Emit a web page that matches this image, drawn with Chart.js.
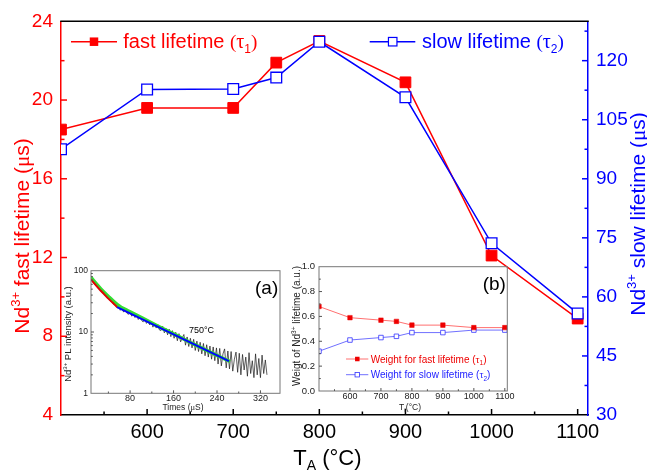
<!DOCTYPE html>
<html><head><meta charset="utf-8">
<script src="https://cdn.jsdelivr.net/npm/chart.js@4"></script>
<style>
html,body{margin:0;padding:0;background:#fff;}
#wrap{position:relative;width:647px;height:472px;overflow:hidden;}
#wrap canvas{position:absolute;}
</style></head><body>
<div id="wrap">
<canvas id="main" width="647" height="472" style="left:0;top:0;width:647px;height:472px"></canvas>
<canvas id="insA" width="240" height="160" style="left:50px;top:255px;width:240px;height:160px"></canvas>
<canvas id="insB" width="225" height="160" style="left:290px;top:255px;width:225px;height:160px"></canvas>
</div>
<script>
// ---------- main chart data ----------
const annealTemps = [500, 600, 700, 750, 800, 900, 1000, 1100];
const fastLifetime = [18.5, 19.6, 19.6, 21.9, 23.0, 20.9, 12.1, 8.9];
const slowLifetime = [97.5, 112.7, 112.8, 115.7, 124.8, 110.7, 73.6, 55.8];
const xTickValues = [600, 700, 800, 900, 1000, 1100];
const leftTickValues = [4, 8, 12, 16, 20, 24];
const rightTickValues = [30, 45, 60, 75, 90, 105, 120];

// ---------- inset (b) data ----------
const weightTemps = [500, 600, 700, 750, 800, 900, 1000, 1100];
const weightFast = [0.68, 0.59, 0.57, 0.56, 0.53, 0.53, 0.51, 0.51];
const weightSlow = [0.32, 0.41, 0.43, 0.44, 0.47, 0.47, 0.49, 0.49];
const weightXTicks = [600, 700, 800, 900, 1000, 1100];
const weightYTicks = [0, 0.2, 0.4, 0.6, 0.8, 1.0];

// ---------- inset (a) data (PL decay at 750 °C) ----------
const decayTime = [8,11,14,17,20,23,26,29,32,35,38,41,44,47,50,53,56,59,62,65,68,71,74,77,80,83,86,89,92,95,98,101,104,107,110,113,116,119,122,125,128,131,134,137,140,143,146,149,152,155,158,161,164,167,170,173,176,179,182,185,188,191,194,197,200,203,206,209,212,215,218,221,224,227,230,233,236,239,242,245,248,251,254,257,260,263,266,269,272,275,278,281,284,287,290,293,296,299,302,305,308,311,314,317,320,323,326,329,332];
const decayIntensity = [71.5,68.8,61.9,60.1,54.2,52.6,47.5,46.3,41.8,40.6,36.1,35.3,31.6,30.9,27.9,27.5,24.6,25.9,22.6,24.5,21.1,23.2,20.3,19.4,21.6,18.1,19.9,17.2,19.1,16.0,17.9,15.5,14.6,16.6,13.8,15.6,13.1,14.9,12.0,13.9,11.6,13.2,10.8,10.6,12.4,9.7,11.5,9.0,11.1,8.4,10.5,7.9,9.9,7.2,9.4,6.9,8.0,9.1,6.1,8.3,5.8,7.9,5.5,7.6,5.0,7.1,4.8,6.8,4.4,6.5,4.1,6.2,3.9,5.9,3.6,5.7,3.4,5.5,3.0,5.4,2.8,4.4,5.3,2.6,4.9,2.5,4.8,2.3,3.6,4.7,2.2,4.5,2.0,4.3,2.4,3.9,1.9,4.6,2.1,3.4,1.8,4.4,2.0,3.7,1.8,4.2,2.1,3.5,2.0];
const totalFitTime = [8,14,20,26,32,40,48,56,64,72,80,100,130,160,200,240,264];
const totalFitValue = [78,67,58,50.5,44.5,38,32.5,28.2,25.2,23.2,21.3,17.3,12.6,9.3,6.15,4.15,3.3];
const fastFitTime = [8,14,20,26,32,40,48,56];
const fastFitValue = [72,62,54,47,41.5,35,30,25.6];
const slowFitTime = [56, 262];
const slowFitValue = [25.4, 3.35];
const decayXTicks = [80, 160, 240, 320];
const decayYTicks = [1, 10, 100];

// ---------- helpers ----------
const SANS = "'Liberation Sans', Arial, sans-serif";
const SERIF = "'Liberation Serif', 'Times New Roman', serif";
Chart.defaults.font.family = SANS;
const RED = '#ff0000', BLUE = '#0000ff';

function pts(xs, ys) { return xs.map((x, i) => ({x: x, y: ys[i]})); }
function fixTicks(vals) { return s => { s.ticks = vals.map(v => ({value: v})); }; }

function drawRich(ctx, segs, x, y, align, color) {
  let w = 0;
  segs.forEach(s => {
    ctx.font = s.s + 'px ' + (s.f === 'serif' ? SERIF : SANS);
    s.w = ctx.measureText(s.t).width; w += s.w;
  });
  let cx = align === 'center' ? x - w / 2 : (align === 'right' ? x - w : x);
  ctx.textAlign = 'left'; ctx.textBaseline = 'alphabetic';
  segs.forEach(s => {
    ctx.font = s.s + 'px ' + (s.f === 'serif' ? SERIF : SANS);
    ctx.fillStyle = s.c || color;
    ctx.fillText(s.t, cx, y + (s.dy || 0));
    cx += s.w;
  });
}
function drawRot(ctx, segs, x, y, color) {
  ctx.save(); ctx.translate(x, y); ctx.rotate(-Math.PI / 2);
  drawRich(ctx, segs, 0, 0, 'center', color); ctx.restore();
}
function drawTicks(chart, specs) {
  const ctx = chart.ctx, a = chart.chartArea;
  ctx.save();
  specs.forEach(sp => {
    const sc = chart.scales[sp.id];
    ctx.strokeStyle = sp.color; ctx.lineWidth = sp.width || 1;
    const draw = (vals, len) => vals.forEach(v => {
      const p = sc.getPixelForValue(v);
      ctx.beginPath();
      if (sp.side === 'bottom') { ctx.moveTo(p, a.bottom); ctx.lineTo(p, a.bottom - len); }
      else if (sp.side === 'left') { ctx.moveTo(a.left, p); ctx.lineTo(a.left + len, p); }
      else if (sp.side === 'right') { ctx.moveTo(a.right, p); ctx.lineTo(a.right - len, p); }
      ctx.stroke();
    });
    draw(sp.major, sp.majorLen); draw(sp.minor || [], sp.minorLen || 0);
  });
  ctx.restore();
}
function legendMarker(ctx, x, y, size, fill, stroke, lw) {
  ctx.save();
  if (fill) { ctx.fillStyle = fill; ctx.fillRect(x - size / 2, y - size / 2, size, size); }
  if (stroke) { ctx.fillStyle = '#fff'; ctx.fillRect(x - size / 2, y - size / 2, size, size);
    ctx.strokeStyle = stroke; ctx.lineWidth = lw; ctx.strokeRect(x - size / 2, y - size / 2, size, size); }
  ctx.restore();
}
function hline(ctx, x1, x2, y, color, lw) {
  ctx.save(); ctx.strokeStyle = color; ctx.lineWidth = lw;
  ctx.beginPath(); ctx.moveTo(x1, y); ctx.lineTo(x2, y); ctx.stroke(); ctx.restore();
}

// ---------- main chart ----------
const mainDecor = {
  id: 'mainDecor',
  afterDraw(chart) {
    const ctx = chart.ctx, a = chart.chartArea;
    hline(ctx, a.left - 0.75, a.right + 0.75, a.top, '#000', 1.5);
    drawTicks(chart, [
      {id: 'x', side: 'bottom', color: '#000', width: 1.5, major: [600,700,800,900,1000,1100], minor: [550,650,750,850,950,1050], majorLen: 6, minorLen: 3.5},
      {id: 'yL', side: 'left', color: RED, width: 1.5, major: [8,12,16,20], minor: [6,10,14,18,22], majorLen: 6, minorLen: 3.5},
      {id: 'yR', side: 'right', color: BLUE, width: 1.5, major: [45,60,75,90,105,120], minor: [37.5,52.5,67.5,82.5,97.5,112.5,127.5], majorLen: 6, minorLen: 3.5}
    ]);
    // legend
    hline(ctx, 71, 117, 41.7, RED, 1.5);
    legendMarker(ctx, 94, 41.7, 8.5, RED);
    drawRich(ctx, [{t: 'fast lifetime ', s: 20}, {t: '(', s: 19, f: 'serif'}, {t: '\u03c4', s: 20, f: 'serif'}, {t: '1', s: 12, dy: 5}, {t: ')', s: 19, f: 'serif'}], 123.3, 48.3, 'left', RED);
    hline(ctx, 369.7, 415.3, 41.7, BLUE, 1.5);
    legendMarker(ctx, 392.7, 41.7, 8.5, null, BLUE, 1.2);
    drawRich(ctx, [{t: 'slow lifetime ', s: 20}, {t: '(', s: 19, f: 'serif'}, {t: '\u03c4', s: 20, f: 'serif'}, {t: '2', s: 12, dy: 5}, {t: ')', s: 19, f: 'serif'}], 422, 48.3, 'left', BLUE);
    // axis titles
    drawRot(ctx, [{t: 'Nd', s: 21}, {t: '3+', s: 13, dy: -9}, {t: ' fast lifetime (', s: 21}, {t: '\u03bc', s: 21, f: 'serif'}, {t: 's)', s: 21}], 28.5, 236, RED);
    drawRot(ctx, [{t: 'Nd', s: 21}, {t: '3+', s: 13, dy: -9}, {t: ' slow lifetime (', s: 21}, {t: '\u03bc', s: 21, f: 'serif'}, {t: 's)', s: 21}], 645, 214, BLUE);
    drawRich(ctx, [{t: 'T', s: 22}, {t: 'A', s: 14, dy: 5}, {t: ' (\u00b0C)', s: 22}], 293.3, 464.5, 'left', '#000');
  }
};

new Chart(document.getElementById('main'), {
  type: 'line',
  data: {
    datasets: [
      {label: 'slow lifetime', data: pts(annealTemps, slowLifetime), yAxisID: 'yR', borderColor: BLUE, borderWidth: 1.5,
       pointStyle: 'rect', pointRadius: 7.6, pointBackgroundColor: '#fff', pointBorderColor: BLUE, pointBorderWidth: 1.3},
      {label: 'fast lifetime', data: pts(annealTemps, fastLifetime), yAxisID: 'yL', borderColor: RED, borderWidth: 1.5,
       pointStyle: 'rect', pointRadius: 7.6, pointBackgroundColor: RED, pointBorderColor: RED, pointBorderWidth: 1}
    ]
  },
  options: {
    responsive: false, animation: false, devicePixelRatio: 1,
    layout: {padding: {top: 21.3, left: 0, right: 0, bottom: 0}},
    plugins: {legend: {display: false}, tooltip: {enabled: false}},
    scales: {
      x: {type: 'linear', min: 500, max: 1112, afterBuildTicks: fixTicks(xTickValues),
          afterFit: s => { s.height = 57; },
          grid: {display: false, drawTicks: false}, border: {display: true, color: '#000', width: 1.5},
          ticks: {color: '#000', font: {size: 20}, padding: 5, maxRotation: 0, autoSkip: false, callback: v => String(v)}},
      yL: {type: 'linear', position: 'left', min: 4, max: 24, afterBuildTicks: fixTicks(leftTickValues),
          afterFit: s => { s.width = 61; },
          grid: {display: false, drawTicks: false}, border: {display: true, color: RED, width: 1.5},
          ticks: {color: RED, font: {size: 19}, padding: 8, callback: v => String(v)}},
      yR: {type: 'linear', position: 'right', min: 30, max: 130, afterBuildTicks: fixTicks(rightTickValues),
          afterFit: s => { s.width = 59; },
          grid: {display: false, drawTicks: false}, border: {display: true, color: BLUE, width: 1.5},
          ticks: {color: BLUE, font: {size: 19}, padding: 8, callback: v => String(v)}}
    }
  },
  plugins: [mainDecor]
});

// ---------- inset (a) ----------
const insADecor = {
  id: 'insADecor',
  afterDraw(chart) {
    const ctx = chart.ctx, a = chart.chartArea;
    ctx.save(); ctx.strokeStyle = '#777'; ctx.lineWidth = 1;
    ctx.strokeRect(a.left, a.top, a.right - a.left, a.bottom - a.top); ctx.restore();
    drawTicks(chart, [
      {id: 'x', side: 'bottom', color: '#555', major: [80,160,240,320], minor: [40,120,200,280], majorLen: 3, minorLen: 1.8},
      {id: 'y', side: 'left', color: '#555', major: [10], minor: [2,3,4,5,6,7,8,9,20,30,40,50,60,70,80,90], majorLen: 3, minorLen: 1.8}
    ]);
    drawRich(ctx, [{t: '(a)', s: 19}], 205, 38.5, 'left', '#000');
    drawRich(ctx, [{t: '750\u00b0C', s: 9}], 139, 77.5, 'left', '#000');
    drawRich(ctx, [{t: 'Times (', s: 8.5}, {t: '\u03bc', s: 8.5, f: 'serif'}, {t: 'S)', s: 8.5}], 133, 155, 'center', '#222');
    drawRot(ctx, [{t: 'Nd', s: 9.5}, {t: '3+', s: 6, dy: -4}, {t: ' PL intensity (a.u.)', s: 9.5}], 20.5, 79, '#222');
  }
};
new Chart(document.getElementById('insA'), {
  type: 'line',
  data: {
    datasets: [
      {data: pts(slowFitTime, slowFitValue), borderColor: '#0000ff', borderWidth: 2, pointRadius: 0},
      {data: pts(fastFitTime, fastFitValue), borderColor: '#e00000', borderWidth: 2, pointRadius: 0, tension: 0.3},
      {data: pts(totalFitTime, totalFitValue), borderColor: '#33dd33', borderWidth: 3.5, pointRadius: 0, tension: 0.3},
      {data: pts(decayTime, decayIntensity), borderColor: '#1a1a1a', borderWidth: 0.7, pointRadius: 0}
    ]
  },
  options: {
    responsive: false, animation: false, devicePixelRatio: 1,
    layout: {padding: {top: 15.7, left: 0, right: 10, bottom: 0}},
    plugins: {legend: {display: false}, tooltip: {enabled: false}},
    scales: {
      x: {type: 'linear', min: 8, max: 356, afterBuildTicks: fixTicks(decayXTicks), afterFit: s => { s.height = 21.7; },
          grid: {display: false, drawTicks: false}, border: {display: false},
          ticks: {color: '#222', font: {size: 9}, padding: 0, maxRotation: 0, autoSkip: false, callback: v => String(v)}},
      y: {type: 'logarithmic', min: 1, max: 100, afterBuildTicks: fixTicks(decayYTicks), afterFit: s => { s.width = 41; },
          grid: {display: false, drawTicks: false}, border: {display: false},
          ticks: {color: '#222', font: {size: 8.5}, padding: 3, autoSkip: false, callback: v => String(v)}}
    }
  },
  plugins: [insADecor]
});

// ---------- inset (b) ----------
const insBDecor = {
  id: 'insBDecor',
  afterDraw(chart) {
    const ctx = chart.ctx, a = chart.chartArea;
    ctx.save(); ctx.strokeStyle = '#777'; ctx.lineWidth = 1;
    ctx.strokeRect(a.left, a.top, a.right - a.left, a.bottom - a.top); ctx.restore();
    drawTicks(chart, [
      {id: 'x', side: 'bottom', color: '#555', major: [600,700,800,900,1000,1100], minor: [550,650,750,850,950,1050], majorLen: 3, minorLen: 1.8},
      {id: 'y', side: 'left', color: '#555', major: [0.2,0.4,0.6,0.8], minor: [0.1,0.3,0.5,0.7,0.9], majorLen: 3, minorLen: 1.8}
    ]);
    drawRich(ctx, [{t: '(b)', s: 19}], 192.7, 34.5, 'left', '#000');
    // legend
    hline(ctx, 56, 78.3, 104, '#ff7070', 1);
    legendMarker(ctx, 67.3, 104, 4.5, '#ee0000');
    drawRich(ctx, [{t: 'Weight for fast lifetime (', s: 10}, {t: '\u03c4', s: 10, f: 'serif'}, {t: '1', s: 6.5, dy: 2.5}, {t: ')', s: 10}], 80.7, 107.5, 'left', '#ee0000');
    hline(ctx, 56, 78.3, 119.7, '#7070ff', 1);
    legendMarker(ctx, 67.3, 119.7, 4.5, null, '#3333ff', 0.8);
    drawRich(ctx, [{t: 'Weight for slow lifetime (', s: 10}, {t: '\u03c4', s: 10, f: 'serif'}, {t: '2', s: 6.5, dy: 2.5}, {t: ')', s: 10}], 80.7, 123.2, 'left', '#2222ff');
    drawRich(ctx, [{t: 'T', s: 8.5}, {t: 'I', s: 6, dy: 2}, {t: '(\u00b0C)', s: 8.5}], 120, 155, 'center', '#222');
    drawRot(ctx, [{t: 'Weigt of Nd', s: 10}, {t: '3+', s: 6.5, dy: -4}, {t: ' lifetime (a.u.)', s: 10}], 10, 71, '#222');
  }
};
new Chart(document.getElementById('insB'), {
  type: 'line',
  data: {
    datasets: [
      {data: pts(weightTemps, weightFast), borderColor: '#ff7070', borderWidth: 1, pointStyle: 'rect', pointRadius: 3.2,
       pointBackgroundColor: '#ee0000', pointBorderColor: '#ee0000', pointBorderWidth: 0.5},
      {data: pts(weightTemps, weightSlow), borderColor: '#7070ff', borderWidth: 1, pointStyle: 'rect', pointRadius: 3.2,
       pointBackgroundColor: '#fff', pointBorderColor: '#3333ff', pointBorderWidth: 0.8}
    ]
  },
  options: {
    responsive: false, animation: false, devicePixelRatio: 1,
    layout: {padding: {top: 11.7, left: 0, right: 7.7, bottom: 0}},
    plugins: {legend: {display: false}, tooltip: {enabled: false}},
    scales: {
      x: {type: 'linear', min: 500, max: 1108, afterBuildTicks: fixTicks(weightXTicks), afterFit: s => { s.height = 24; },
          grid: {display: false, drawTicks: false}, border: {display: false},
          ticks: {color: '#222', font: {size: 9}, padding: 0, maxRotation: 0, autoSkip: false, callback: v => String(v)}},
      y: {type: 'linear', min: 0, max: 1, afterBuildTicks: fixTicks(weightYTicks), afterFit: s => { s.width = 29; },
          grid: {display: false, drawTicks: false}, border: {display: false},
          ticks: {color: '#222', font: {size: 9.5}, padding: 4, autoSkip: false, callback: v => Number(v).toFixed(1)}}
    }
  },
  plugins: [insBDecor]
});
</script>
</body></html>
